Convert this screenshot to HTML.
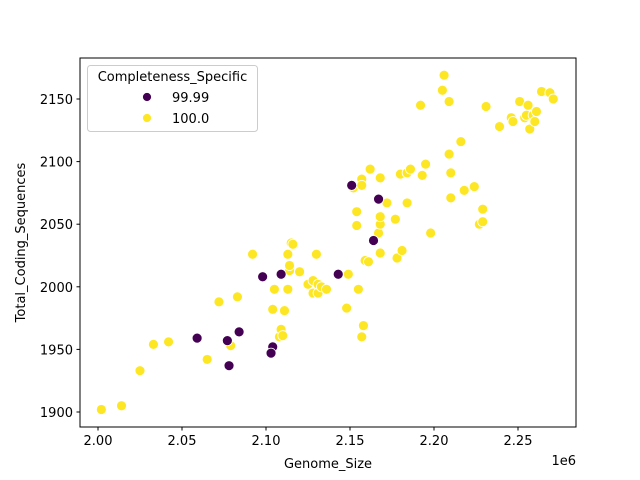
<!DOCTYPE html>
<html><head><meta charset="utf-8"><style>
html,body{margin:0;padding:0;background:#fff}
svg{display:block;font-family:"DejaVu Sans","Liberation Sans",sans-serif}
</style></head><body>
<svg id="chart" width="640" height="480">
<rect x="0" y="0" width="640" height="480" fill="#fff"/>
<g id="points"></g>
<rect x="80" y="58" width="496" height="369" fill="none" stroke="#000" stroke-width="1"/>
<g id="xticks"></g>
<g id="yticks"></g>
<text x="328" y="468" text-anchor="middle" font-size="13">Genome_Size</text>
<text x="576" y="465" text-anchor="end" font-size="13">1e6</text>
<text transform="translate(25,242.5) rotate(-90)" text-anchor="middle" font-size="13">Total_Coding_Sequences</text>
<g>
<rect x="87.5" y="65.5" width="170" height="66" rx="3" fill="#fff" fill-opacity="0.8" stroke="#ccc"/>
<text x="172.5" y="81" text-anchor="middle" font-size="13">Completeness_Specific</text>
<circle cx="147" cy="97" r="4.5" fill="#440154" stroke="#fff" stroke-width="0.8"/>
<text x="172" y="102" font-size="13">99.99</text>
<circle cx="147" cy="118" r="4.5" fill="#fde725" stroke="#fff" stroke-width="0.8"/>
<text x="172" y="123" font-size="13">100.0</text>
</g>
</svg>
<script>
const purpleX=[2.151,2.167,2.164,2.143,2.109,2.098,2.059,2.084,2.077,2.078,2.104,2.103];
const purpleY=[2081,2070,2037,2010,2010,2008,1959,1964,1957,1937,1952,1947];
const yellowX=[2.002,2.014,2.025,2.033,2.042,2.065,2.072,2.083,2.079,2.092,2.104,2.105,2.108,2.109,2.110,2.111,2.113,2.113,2.114,2.114,2.115,2.116,2.120,2.125,2.128,2.128,2.130,2.131,2.131,2.133,2.136,2.148,2.149,2.152,2.154,2.154,2.155,2.157,2.157,2.157,2.158,2.159,2.161,2.162,2.167,2.168,2.168,2.168,2.168,2.172,2.177,2.178,2.181,2.180,2.184,2.184,2.186,2.192,2.193,2.195,2.198,2.205,2.206,2.209,2.209,2.210,2.210,2.216,2.218,2.224,2.227,2.229,2.229,2.231,2.239,2.246,2.247,2.251,2.254,2.255,2.256,2.257,2.259,2.260,2.261,2.264,2.269,2.271];
const yellowY=[1902,1905,1933,1954,1956,1942,1988,1992,1953,2026,1982,1998,1960,1966,1961,1981,1998,2026,2013,2017,2035,2034,2012,2002,1995,2005,2026,1995,2002,2000,1998,1983,2010,2079,2060,2049,1998,2086,2081,1960,1969,2021,2020,2094,2043,2050,2056,2027,2087,2067,2054,2023,2029,2090,2091,2067,2094,2145,2089,2098,2043,2157,2169,2148,2106,2091,2071,2116,2077,2080,2050,2052,2062,2144,2128,2135,2132,2148,2135,2137,2145,2126,2137,2132,2140,2156,2155,2150];
const xTicks=[2.00,2.05,2.10,2.15,2.20,2.25];
const xTickLabels=["2.00","2.05","2.10","2.15","2.20","2.25"];
const yTicks=[1900,1950,2000,2050,2100,2150];
const yTickLabels=["1900","1950","2000","2050","2100","2150"];

const NS="http://www.w3.org/2000/svg";
function sx(v){return 98+(v-2.0)*1680;}
function sy(v){return 412-(v-1900)*1.252;}
const pts=document.getElementById('points');
function dot(x,y,c,n){const e=document.createElementNS(NS,'circle');
e.setAttribute('cx',sx(x));e.setAttribute('cy',sy(y));e.setAttribute('r',5);
e.setAttribute('fill',c);e.setAttribute('stroke','#fff');e.setAttribute('stroke-width',0.8);


pts.appendChild(e);}
for(let i=0;i<yellowX.length;i++)dot(yellowX[i],yellowY[i],'#fde725','point-100');
for(let i=0;i<purpleX.length;i++)dot(purpleX[i],purpleY[i],'#440154','point-99-99');
const xg=document.getElementById('xticks');
xTicks.forEach((t,i)=>{const X=sx(t);
const l=document.createElementNS(NS,'line');l.setAttribute('x1',X);l.setAttribute('x2',X);l.setAttribute('y1',427);l.setAttribute('y2',430.5);l.setAttribute('stroke','#000');


xg.appendChild(l);
const tx=document.createElementNS(NS,'text');tx.setAttribute('x',X);tx.setAttribute('y',445);tx.setAttribute('text-anchor','middle');tx.setAttribute('font-size','13');tx.textContent=xTickLabels[i];


xg.appendChild(tx);});
const yg=document.getElementById('yticks');
yTicks.forEach((t,i)=>{const Y=sy(t);
const l=document.createElementNS(NS,'line');l.setAttribute('x1',76.5);l.setAttribute('x2',80);l.setAttribute('y1',Y);l.setAttribute('y2',Y);l.setAttribute('stroke','#000');


yg.appendChild(l);
const tx=document.createElementNS(NS,'text');tx.setAttribute('x',73);tx.setAttribute('y',Y+5);tx.setAttribute('text-anchor','end');tx.setAttribute('font-size','13');tx.textContent=yTickLabels[i];


yg.appendChild(tx);});
</script>
</body></html>
